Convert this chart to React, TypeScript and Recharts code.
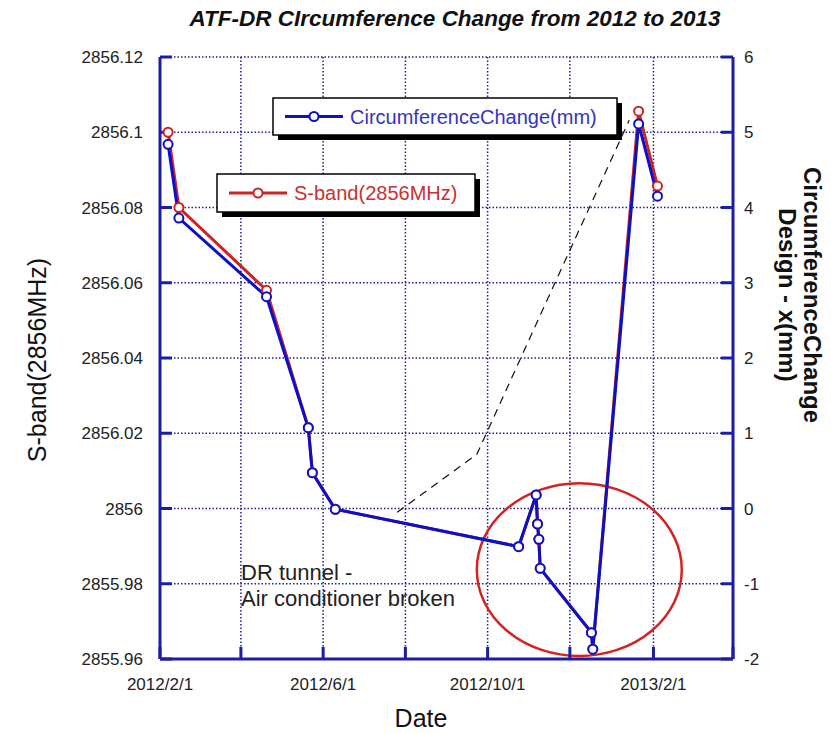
import React from 'react';
import { ComposedChart, Line, XAxis, YAxis, CartesianGrid, ReferenceArea } from 'recharts';

// Measurement dates and the two measured quantities
const measurementDates = [
  '2012/2/7', '2012/2/15', '2012/4/20', '2012/5/21', '2012/5/24', '2012/6/10',
  '2012/10/24', '2012/11/6', '2012/11/7', '2012/11/8', '2012/11/9',
  '2012/12/17', '2012/12/18', '2013/1/21', '2013/2/4',
];
const sBandMHz = [
  2856.1, 2856.08, 2856.058, 2856.0215, 2856.0095, 2855.9998,
  2855.9899, 2856.0036, 2855.9959, 2855.9918, 2855.9841,
  2855.967, 2855.9626, 2856.1056, 2856.0857,
];
const circumferenceMm = [
  4.84, 3.86, 2.815, 1.074, 0.476, -0.01,
  -0.507, 0.18, -0.206, -0.41, -0.795,
  -1.65, -1.87, 5.11, 4.15,
];

// Hand-drawn dashed guide line
const guideDates = ['2012/7/26', '2012/9/23', '2013/1/14'];
const guideMm = [-0.05, 0.72, 5.16];

// Highlighted period (ellipse bounds)
const highlightDates = ['2012/9/23', '2013/2/22'];
const highlightMm = [-1.96, 0.335];

// Axis ticks
const gridDates = ['2012/2/1', '2012/4/1', '2012/6/1', '2012/8/1', '2012/10/1', '2012/12/1', '2013/2/1', '2013/4/1'];
const labelledDates = ['2012/2/1', '2012/6/1', '2012/10/1', '2013/2/1'];
const sBandTicks = [2855.96, 2855.98, 2856, 2856.02, 2856.04, 2856.06, 2856.08, 2856.1, 2856.12];
const mmTicks = [-2, -1, 0, 1, 2, 3, 4, 5, 6];

const EPOCH = Date.UTC(2012, 1, 1);
const toDay = (s: string) => {
  const [y, m, d] = s.split('/').map(Number);
  return (Date.UTC(y, m - 1, d) - EPOCH) / 86400000;
};

const rows = measurementDates.map((d, i) => ({
  day: toDay(d),
  sBand: sBandMHz[i],
  mm: circumferenceMm[i],
}));
const guideRows = guideDates.map((d, i) => ({ day: toDay(d), guide: guideMm[i] }));
const gridTicks = gridDates.map(toDay);
const dayLabels = new Map(labelledDates.map((d) => [toDay(d), d]));

const FRAME = '#1c1ca8';
const BLUE = '#0c10c8';
const RED = '#cc2424';
const FONT = '"Liberation Sans", Arial, Helvetica, sans-serif';

const axisLine = { stroke: FRAME, strokeWidth: 3 };
const tickStyle = { fontSize: 17, fill: '#222', fontFamily: FONT };

const Ellipse = (p: any) => (
  <ellipse
    cx={p.x + p.width / 2}
    cy={p.y + p.height / 2}
    rx={p.width / 2}
    ry={p.height / 2}
    fill="none"
    stroke="#d42222"
    strokeWidth={2.5}
  />
);

const LegendBox = ({ x, y, w, h, color, textColor, label }: any) => (
  <g>
    <rect x={x + 5} y={y + 5} width={w} height={h} fill="#000" />
    <rect x={x} y={y} width={w} height={h} fill="#fff" stroke="#000" strokeWidth={1.5} />
    <line x1={x + 12} x2={x + 70} y1={y + h / 2} y2={y + h / 2} stroke={color} strokeWidth={3} />
    <circle cx={x + 41} cy={y + h / 2} r={4.5} fill="#fff" stroke={color} strokeWidth={2} />
    <text x={x + 77} y={y + h / 2} dominantBaseline="central" fontSize={20} fill={textColor} fontFamily={FONT}>
      {label}
    </text>
  </g>
);

export default function App() {
  return (
    <div style={{ position: 'absolute', left: 0, top: 0, width: 831, height: 733, background: '#fff' }}>
      <ComposedChart
        width={831}
        height={733}
        data={rows}
        margin={{ top: 57, right: 38, bottom: 44, left: 100 }}
      >
        <CartesianGrid yAxisId="left" stroke="#1e1e96" strokeDasharray="1.5 2" strokeWidth={1.5} />
        <XAxis
          dataKey="day"
          type="number"
          domain={[gridTicks[0], gridTicks[gridTicks.length - 1]]}
          ticks={gridTicks}
          interval={0}
          height={30}
          axisLine={axisLine}
          tickLine={axisLine}
          tickSize={-12}
          tickMargin={31}
          tick={tickStyle}
          tickFormatter={(v: number) => dayLabels.get(v) ?? ''}
        />
        <XAxis
          xAxisId="top"
          orientation="top"
          dataKey="day"
          type="number"
          domain={[gridTicks[0], gridTicks[gridTicks.length - 1]]}
          ticks={gridTicks}
          interval={0}
          height={0}
          axisLine={axisLine}
          tickLine={axisLine}
          tickSize={-12}
          tickFormatter={() => ''}
        />
        <YAxis
          yAxisId="left"
          domain={[2855.96, 2856.12]}
          ticks={sBandTicks}
          interval={0}
          width={60}
          axisLine={axisLine}
          tickLine={axisLine}
          tickSize={-12}
          tickMargin={29}
          tick={tickStyle}
          tickFormatter={(v: number) => String(Number(v.toFixed(2)))}
        />
        <YAxis
          yAxisId="right"
          orientation="right"
          domain={[-2, 6]}
          ticks={mmTicks}
          interval={0}
          width={60}
          axisLine={axisLine}
          tickLine={axisLine}
          tickSize={-12}
          tickMargin={23}
          tick={tickStyle}
        />
        <ReferenceArea
          yAxisId="right"
          x1={toDay(highlightDates[0])}
          x2={toDay(highlightDates[1])}
          y1={highlightMm[0]}
          y2={highlightMm[1]}
          shape={Ellipse}
        />
        <Line
          yAxisId="right"
          data={guideRows}
          dataKey="guide"
          stroke="#111"
          strokeWidth={1.2}
          strokeDasharray="8 6"
          dot={false}
          isAnimationActive={false}
        />
        <Line
          yAxisId="left"
          dataKey="sBand"
          stroke={RED}
          strokeWidth={3}
          dot={{ r: 4.5, stroke: RED, strokeWidth: 2, fill: '#fff' }}
          isAnimationActive={false}
        />
        <Line
          yAxisId="right"
          dataKey="mm"
          stroke={BLUE}
          strokeWidth={3}
          dot={{ r: 4.5, stroke: BLUE, strokeWidth: 2, fill: '#fff' }}
          isAnimationActive={false}
        />
      </ComposedChart>
      <svg
        width={831}
        height={733}
        style={{ position: 'absolute', left: 0, top: 0, pointerEvents: 'none' }}
      >
        <text x={455} y={26} textAnchor="middle" fontSize={22.5} fontWeight="bold" fontStyle="italic" fill="#111" fontFamily={FONT}>
          ATF-DR CIrcumference Change from 2012 to 2013
        </text>
        <text
          transform="translate(37,360) rotate(-90)"
          textAnchor="middle"
          dominantBaseline="central"
          fontSize={25}
          fill="#111"
          fontFamily={FONT}
        >
          S-band(2856MHz)
        </text>
        <text
          transform="translate(812,295) rotate(90)"
          textAnchor="middle"
          dominantBaseline="central"
          fontSize={24}
          fontWeight="bold"
          fill="#111"
          fontFamily={FONT}
        >
          CircumferenceChange
        </text>
        <text
          transform="translate(787,295) rotate(90)"
          textAnchor="middle"
          dominantBaseline="central"
          fontSize={24}
          fontWeight="bold"
          fill="#111"
          fontFamily={FONT}
        >
          Design - x(mm)
        </text>
        <text x={421} y={718} textAnchor="middle" dominantBaseline="central" fontSize={25} fill="#111" fontFamily={FONT}>
          Date
        </text>
        <text x={241} y={580} fontSize={22} fill="#222" fontFamily={FONT}>
          DR tunnel -
        </text>
        <text x={241} y={606} fontSize={22} fill="#222" fontFamily={FONT}>
          Air conditioner broken
        </text>
        <LegendBox x={273} y={98} w={344} h={37} color={BLUE} textColor="#3434c0" label="CircumferenceChange(mm)" />
        <LegendBox x={217} y={174} w={258} h={38} color={RED} textColor="#cc3030" label="S-band(2856MHz)" />
      </svg>
    </div>
  );
}
